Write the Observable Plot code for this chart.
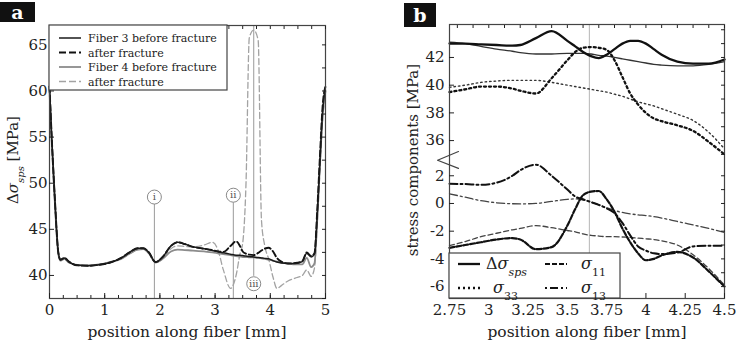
<!DOCTYPE html>
<html><head><meta charset="utf-8">
<script src="https://cdn.jsdelivr.net/npm/d3@7"></script>
<script src="https://cdn.jsdelivr.net/npm/@observablehq/plot@0.6"></script>
<style>
body{margin:0;background:#fff;}
#wrap{position:relative;width:736px;height:342px;display:flex;overflow:hidden;}
.tag{position:absolute;background:#111;color:#fff;font:bold 19px "DejaVu Serif";display:flex;align-items:center;justify-content:center;}
</style></head><body>
<div id="wrap"><div id="pa"></div><div id="pb"></div>
<div class="tag" style="left:0;top:2px;width:35px;height:20px;">a</div>
<div class="tag" style="left:404px;top:3px;width:32px;height:24px;">b</div>
</div>
<script>
// ---------- Panel a data ----------
const posA = [0,0.04,0.1,0.16,0.2,0.27,0.35,0.5,0.7,0.9,1.1,1.3,1.45,1.6,1.7,1.8,1.92,2.05,2.2,2.32,2.45,2.6,2.8,2.95,3.05,3.15,3.28,3.38,3.45,3.5,3.56,3.62,3.7,3.78,3.84,3.9,3.97,4.05,4.12,4.2,4.32,4.45,4.58,4.66,4.74,4.8,4.85,4.9,4.95,5.0];
const fiber3Before = [60.5,55,48,42.5,41.7,41.9,41.5,41.1,41.05,41.15,41.4,41.9,42.5,42.95,42.95,42.5,41.45,42.0,43.2,43.6,43.4,43.1,42.9,42.7,42.6,42.45,42.3,42.2,42.2,42.15,42.1,42.05,42.0,41.95,41.9,41.85,41.8,41.6,41.45,41.35,41.3,41.3,41.5,42.4,42.0,42.3,46.5,52.5,58,60.5];
const fiber3After = [60.5,55,48,42.5,41.7,41.9,41.5,41.1,41.05,41.15,41.4,41.9,42.5,42.95,42.95,42.5,41.45,42.0,43.2,43.6,43.4,43.1,42.9,42.75,42.6,42.55,43.2,43.7,43.2,42.6,42.35,42.25,42.2,42.45,42.7,42.9,43.0,42.6,41.9,41.5,41.3,41.35,41.55,42.5,42.1,42.4,47,53,58.5,60.5];
const fiber4Before = [60,54.5,47.5,42.3,41.6,41.8,41.4,41.15,41.1,41.2,41.45,41.8,42.35,42.8,42.85,42.4,41.4,41.8,42.6,42.8,42.75,42.7,42.6,42.5,42.4,42.3,42.2,42.1,42.05,42.0,42.0,41.95,41.95,41.9,41.85,41.8,41.7,41.6,41.5,41.4,41.3,41.2,41.2,41.9,40.9,41.3,46,52,57.5,60];
const fiber4After = [60,54.5,47.5,42.3,41.6,41.8,41.4,41.15,41.1,41.2,41.45,41.8,42.35,42.8,42.85,42.4,41.4,41.8,42.9,43.2,43.15,43.1,43.3,43.6,42.8,40.6,38.6,40.0,42.3,43.5,50,65.8,66.6,65.5,46,43.2,41.8,39.8,38.6,38.9,39.4,39.7,40.0,40.6,39.9,40.8,45.5,51.5,57,60];
const ticksAX = [0,1,2,3,4,5];
const ticksAY = [40,45,50,55,60,65];
const minorAX = d3.range(0, 5.001, 0.25);
const minorAY = d3.range(37.5, 67.1, 2.5);
const markerLabels = ["i","ii","iii"];
const markerX = [1.9, 3.33, 3.7];
const markerY = [48.5, 48.7, 39.1];
const markerLineFrom = [37.5, 37.5, 39.9];
const markerLineTo = [47.7, 47.9, 67];
const legendA = ["Fiber 3 before fracture","after fracture","Fiber 4 before fracture","after fracture"];

// ---------- Panel b data ----------
const posB = [2.75,2.85,2.95,3.05,3.15,3.2,3.3,3.4,3.5,3.55,3.6,3.65,3.7,3.75,3.8,3.85,3.9,3.95,4.0,4.05,4.1,4.2,4.3,4.4,4.5];
const spsBefore = [43.1,43.0,42.8,42.6,42.45,42.35,42.25,42.25,42.3,42.3,42.3,42.25,42.15,42.1,42.0,41.9,41.8,41.7,41.6,41.5,41.45,41.4,41.4,41.5,41.7];
const spsAfter  = [43.0,43.0,42.95,42.9,42.85,42.9,43.4,43.9,43.2,42.8,42.4,42.1,41.95,42.2,42.6,43.0,43.2,43.2,43.0,42.6,42.2,41.7,41.55,41.55,41.85];
const s33Before = [39.85,40.0,40.2,40.3,40.35,40.35,40.35,40.2,40.0,39.9,39.8,39.7,39.6,39.5,39.35,39.2,39.0,38.8,38.65,38.5,38.3,37.9,37.45,36.6,35.4];
const s33After  = [39.5,39.7,39.9,39.9,39.75,39.6,39.4,40.5,41.8,42.4,42.7,42.75,42.7,42.55,41.8,40.6,39.4,38.6,38.0,37.6,37.4,37.1,36.7,35.9,35.0];
const s11Before = [-3.05,-2.75,-2.4,-2.15,-1.9,-1.8,-1.6,-1.75,-1.95,-2.05,-2.2,-2.3,-2.35,-2.4,-2.4,-2.42,-2.45,-2.5,-2.55,-2.6,-2.7,-3.0,-3.7,-4.7,-5.9];
const s11After  = [-3.2,-3.0,-2.8,-2.6,-2.5,-2.6,-3.3,-3.15,-1.6,-0.4,0.6,0.85,0.9,0.3,-0.6,-1.8,-2.8,-3.6,-4.1,-4.0,-3.75,-3.5,-3.9,-4.9,-6.0];
const s13Before = [0.7,0.45,0.2,0.05,-0.02,-0.03,0.0,0.15,0.3,0.33,0.25,0.1,-0.1,-0.3,-0.5,-0.65,-0.75,-0.82,-0.87,-0.95,-1.05,-1.3,-1.55,-1.8,-2.1];
const s13After  = [1.42,1.4,1.35,1.5,2.0,2.4,2.8,2.0,1.0,0.5,0.3,0.1,-0.1,-0.35,-0.7,-1.4,-2.3,-3.1,-3.4,-3.6,-3.65,-3.55,-3.1,-3.05,-3.05];
const breakOffset = 31.46;           // upper (35–44 MPa) segment is shifted down by this
const ticksBX = [2.75,3,3.25,3.5,3.75,4,4.25,4.5];
const ticksBUpper = [36,38,40,42];
const ticksBLower = [-6,-4,-2,0,2];
const minorBX = d3.range(2.8, 4.501, 0.1);
const minorBUpper = d3.range(35, 44.1, 1);
const minorBLower = d3.range(-6, 2.1, 1);
const fractureB = 3.64;
const breakMarkX = [2.807, 2.674, 2.807];
const breakMarkV = [3.75, 3.12, 2.53];

const FONT = "DejaVu Serif";
const CURVE = "monotone-x";

// ---------- Panel a ----------
const rowsA = s => posA.map((x, i) => ({x, y: s[i]}));
const markers = markerX.map((x, i) => ({x, y: markerY[i], label: markerLabels[i], y1: markerLineFrom[i], y2: markerLineTo[i]}));
const svgA = Plot.plot({
  width: 368, height: 342,
  marginLeft: 49, marginRight: 43, marginTop: 25, marginBottom: 44,
  x: {domain: [0, 5]},
  y: {domain: [37.5, 67.1]},
  style: {fontFamily: FONT, fontSize: "15px", background: "white", color: "#222"},
  marks: [
    Plot.ruleX(markers, {x: "x", y1: "y1", y2: "y2", stroke: "#9a9a9a", strokeWidth: 1}),
    Plot.line(rowsA(fiber4After), {x: "x", y: "y", curve: CURVE, stroke: "#a3a3a3", strokeWidth: 1.3, strokeDasharray: "6,3"}),
    Plot.line(rowsA(fiber4Before), {x: "x", y: "y", curve: CURVE, stroke: "#8c8c8c", strokeWidth: 1.8}),
    Plot.line(rowsA(fiber3After), {x: "x", y: "y", curve: CURVE, stroke: "#111", strokeWidth: 1.9, strokeDasharray: "6,3"}),
    Plot.line(rowsA(fiber3Before), {x: "x", y: "y", curve: CURVE, stroke: "#1a1a1a", strokeWidth: 1.5}),
    Plot.dot(markers, {x: "x", y: "y", r: 7, fill: "white", stroke: "#8a8a8a", strokeWidth: 1}),
    Plot.text(markers, {x: "x", y: "y", text: "label", fontSize: 10, fill: "#555", fontFamily: FONT}),
    Plot.frame({stroke: "#444", strokeWidth: 1.2}),
    Plot.axisX({ticks: ticksAX, tickSize: -5, tickPadding: 11, tickFormat: d => String(d), label: null}),
    Plot.axisX({ticks: minorAX, tickSize: -3, tickPadding: 0, tickFormat: () => "", label: null}),
    Plot.axisX({anchor: "top", ticks: minorAX, tickSize: -3, tickFormat: () => "", label: null}),
    Plot.axisY({ticks: ticksAY, tickSize: -5, tickPadding: 7, tickFormat: d => String(d), label: null}),
    Plot.axisY({anchor: "right", ticks: minorAY, tickSize: -4, tickFormat: () => "", label: null})
  ]
});
document.getElementById("pa").appendChild(svgA);

// ---------- Panel b ----------
const rowsB = (s, shift) => posB.map((x, i) => ({x, v: s[i] - shift}));
const tickLabel = new Map([...ticksBLower.map(t => [t, String(t)]), ...ticksBUpper.map(t => [t - breakOffset, String(t)])]);
const svgB = Plot.plot({
  width: 368, height: 342,
  marginLeft: 81, marginRight: 12, marginTop: 24, marginBottom: 44,
  x: {domain: [2.75, 4.5]},
  y: {domain: [-6.86, 12.92]},
  style: {fontFamily: FONT, fontSize: "15px", background: "white", color: "#222", overflow: "visible"},
  marks: [
    Plot.ruleX([fractureB], {stroke: "#b5b5b5", strokeWidth: 1}),
    Plot.line(rowsB(spsBefore, breakOffset), {x: "x", y: "v", curve: CURVE, stroke: "#333", strokeWidth: 1.3}),
    Plot.line(rowsB(s33Before, breakOffset), {x: "x", y: "v", curve: CURVE, stroke: "#333", strokeWidth: 1.4, strokeDasharray: "1.5,3"}),
    Plot.line(rowsB(s11Before, 0), {x: "x", y: "v", curve: CURVE, stroke: "#444", strokeWidth: 1.3, strokeDasharray: "5,3"}),
    Plot.line(rowsB(s13Before, 0), {x: "x", y: "v", curve: CURVE, stroke: "#444", strokeWidth: 1.3, strokeDasharray: "8,3,2,3"}),
    Plot.line(rowsB(spsAfter, breakOffset), {x: "x", y: "v", curve: CURVE, stroke: "#111", strokeWidth: 2.3}),
    Plot.line(rowsB(s33After, breakOffset), {x: "x", y: "v", curve: CURVE, stroke: "#111", strokeWidth: 2.3, strokeDasharray: "2,3"}),
    Plot.line(rowsB(s11After, 0), {x: "x", y: "v", curve: CURVE, stroke: "#111", strokeWidth: 2.2, strokeDasharray: "5,2"}),
    Plot.line(rowsB(s13After, 0), {x: "x", y: "v", curve: CURVE, stroke: "#111", strokeWidth: 2.0, strokeDasharray: "8,3,2,3"}),
    Plot.frame({stroke: "#444", strokeWidth: 1.2}),
    Plot.line(breakMarkX.map((x, i) => ({x, v: breakMarkV[i]})), {x: "x", y: "v", stroke: "#444", strokeWidth: 1.2}),
    Plot.axisX({ticks: ticksBX, tickSize: -5, tickPadding: 11, tickFormat: d => String(d), label: null}),
    Plot.axisX({anchor: "top", ticks: minorBX, tickSize: -3, tickFormat: () => "", label: null}),
    Plot.axisY({ticks: [...tickLabel.keys()], tickSize: -5, tickPadding: 10, tickFormat: d => tickLabel.get(d), label: null}),
    Plot.axisY({anchor: "right", ticks: [...minorBLower, ...minorBUpper.map(t => t - breakOffset)], tickSize: -4, tickFormat: () => "", label: null})
  ]
});
document.getElementById("pb").appendChild(svgB);

// ---------- titles & legends ----------
function mathLabel(sel, parts) {
  parts.forEach(p => {
    const t = sel.append("tspan").text(p.t);
    if (p.it) t.attr("font-style", "italic");
    if (p.sub) t.attr("font-size", p.sub).attr("baseline-shift", "sub");
  });
}
const ga = d3.select(svgA).append("g").attr("font-family", FONT).attr("fill", "#222");
ga.append("text").attr("x", 187).attr("y", 337).attr("text-anchor", "middle").attr("font-size", 15.5).text("position along fiber [mm]");
mathLabel(ga.append("text").attr("transform", "translate(18,160) rotate(-90)").attr("text-anchor", "middle").attr("font-size", 15),
  [{t: "Δ"}, {t: "σ", it: true}, {t: "sps", it: true, sub: 10}, {t: " [MPa]"}]);
// legend a
ga.append("rect").attr("x", 49).attr("y", 25).attr("width", 178).attr("height", 65).attr("fill", "white").attr("stroke", "#444").attr("stroke-width", 1.2);
const legStyles = [
  {stroke: "#1a1a1a", w: 1.5, dash: null},
  {stroke: "#111", w: 1.9, dash: "7,3"},
  {stroke: "#8c8c8c", w: 1.8, dash: null},
  {stroke: "#a3a3a3", w: 1.3, dash: "7,3"}
];
legendA.forEach((txt, i) => {
  const y = 38 + i * 14.5;
  ga.append("line").attr("x1", 59).attr("x2", 81).attr("y1", y).attr("y2", y)
    .attr("stroke", legStyles[i].stroke).attr("stroke-width", legStyles[i].w).attr("stroke-dasharray", legStyles[i].dash);
  ga.append("text").attr("x", 88).attr("y", y + 4).attr("text-anchor", "start").attr("font-size", 11).text(txt);
});

const gb = d3.select(svgB).append("g").attr("font-family", FONT).attr("fill", "#222");
gb.append("text").attr("x", 219).attr("y", 337).attr("text-anchor", "middle").attr("font-size", 15.5).text("position along fiber [mm]");
gb.append("text").attr("transform", "translate(50,160) rotate(-90)").attr("text-anchor", "middle").attr("font-size", 15).text("stress components [MPa]");
gb.append("rect").attr("x", 81).attr("y", 253).attr("width", 171).attr("height", 45).attr("fill", "white").attr("stroke", "#444").attr("stroke-width", 1.2);
const legB = [
  {x: 90, y: 264, dash: null, w: 2.3, parts: [{t: "Δ"}, {t: "σ", it: true}, {t: "sps", it: true, sub: 11}], tx: 118},
  {x: 177, y: 264, dash: "5,2", w: 2.2, parts: [{t: "σ", it: true}, {t: "11", sub: 11}], tx: 213},
  {x: 90, y: 288, dash: "2,3", w: 2.3, parts: [{t: "σ", it: true}, {t: "33", sub: 11}], tx: 125},
  {x: 177, y: 288, dash: "2,3,8,3", w: 2.0, parts: [{t: "σ", it: true}, {t: "13", sub: 11}], tx: 213}
];
legB.forEach(d => {
  gb.append("line").attr("x1", d.x).attr("x2", d.x + 22).attr("y1", d.y).attr("y2", d.y)
    .attr("stroke", "#111").attr("stroke-width", d.w).attr("stroke-dasharray", d.dash);
  mathLabel(gb.append("text").attr("x", d.tx).attr("y", d.y + 5).attr("text-anchor", "start").attr("font-size", 16), d.parts);
});
</script>
</body></html>
